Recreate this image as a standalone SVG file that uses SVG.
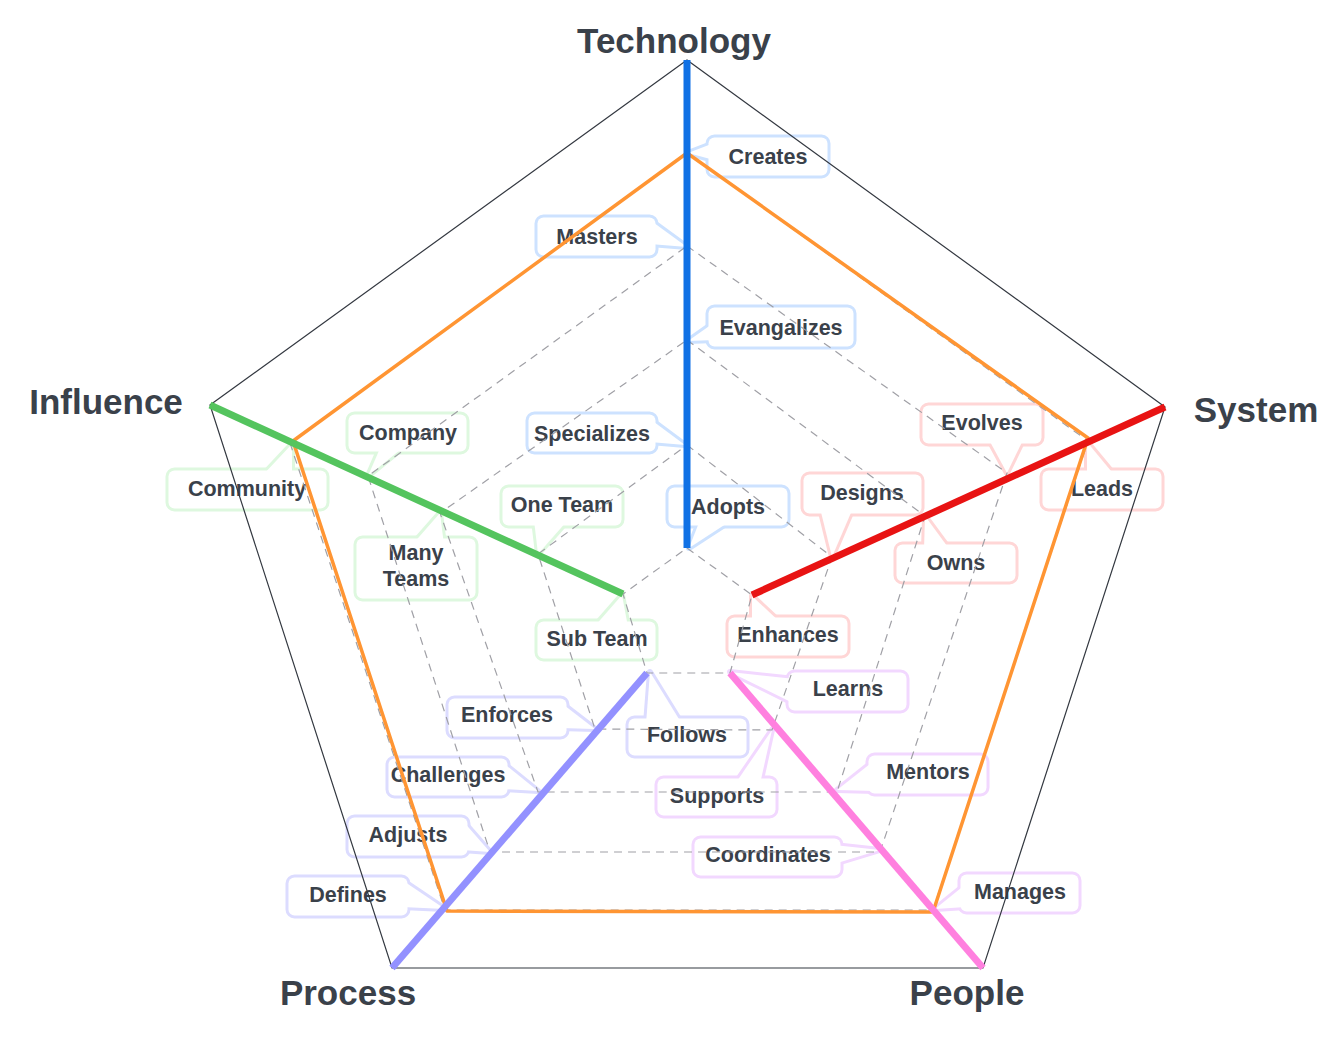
<svg xmlns="http://www.w3.org/2000/svg" width="1343" height="1043" viewBox="0 0 1343 1043">
<style>
.s{fill:none;stroke-width:6;stroke-linejoin:round}
.w{fill:#fff;stroke:none}
.blue .s{stroke:#cde2ff}
.green .s{stroke:#def8df}
.red .s{stroke:#ffd6d6}
.purple .s{stroke:#dcdcff}
.pink .s{stroke:#f2d8ff}
text{font-family:"Liberation Sans",Arial,sans-serif;font-weight:bold;fill:#3a414a;text-anchor:middle}
.cl text{font-size:21.5px}
.ax text{font-size:35px}
.dash{fill:none;stroke:#a0a0a6;stroke-width:1.2;stroke-dasharray:8 6}
.axis{stroke-width:7;fill:none}
</style>
<rect width="1343" height="1043" fill="#fff"/>

<g id="callouts">
<g id="c-creates" class="cl blue"><rect class="s" x="708.5" y="137.5" width="119" height="38" rx="6"/><polygon class="s" points="714,143 688,153 714,160"/><rect class="w" x="708.5" y="137.5" width="119" height="38" rx="6"/><polygon class="w" points="714,143 688,153 714,160"/><text x="768" y="164">Creates</text></g>
<g id="c-masters" class="cl blue"><rect class="s" x="537.5" y="217.5" width="118" height="38" rx="6"/><polygon class="s" points="650,220 687,247 650,244"/><rect class="w" x="537.5" y="217.5" width="118" height="38" rx="6"/><polygon class="w" points="650,220 687,247 650,244"/><text x="597" y="244">Masters</text></g>
<g id="c-evangalizes" class="cl blue"><rect class="s" x="708.5" y="307.5" width="145" height="39" rx="6"/><polygon class="s" points="715,322 688,341 715,340"/><rect class="w" x="708.5" y="307.5" width="145" height="39" rx="6"/><polygon class="w" points="715,322 688,341 715,340"/><text x="781" y="335">Evangalizes</text></g>
<g id="c-specializes" class="cl blue"><rect class="s" x="528.5" y="414.5" width="127" height="37" rx="6"/><polygon class="s" points="650,419 685,445 650,442"/><rect class="w" x="528.5" y="414.5" width="127" height="37" rx="6"/><polygon class="w" points="650,419 685,445 650,442"/><text x="592" y="441">Specializes</text></g>
<g id="c-adopts" class="cl blue"><rect class="s" x="668.5" y="487.5" width="119" height="38" rx="6"/><polygon class="s" points="700,520 689,548 732,520"/><rect class="w" x="668.5" y="487.5" width="119" height="38" rx="6"/><polygon class="w" points="700,520 689,548 732,520"/><text x="728" y="514">Adopts</text></g>

<g id="c-company" class="cl green"><rect class="s" x="348.5" y="414.5" width="118" height="37" rx="6"/><polygon class="s" points="381,446 368,476 405,446"/><rect class="w" x="348.5" y="414.5" width="118" height="37" rx="6"/><polygon class="w" points="381,446 368,476 405,446"/><text x="408" y="440">Company</text></g>
<g id="c-community" class="cl green"><rect class="s" x="168.5" y="470.5" width="158" height="38" rx="6"/><polygon class="s" points="262,476 292,444 292,476"/><rect class="w" x="168.5" y="470.5" width="158" height="38" rx="6"/><polygon class="w" points="262,476 292,444 292,476"/><text x="247" y="496">Community</text></g>
<g id="c-manyteams" class="cl green"><rect class="s" x="356.5" y="538.5" width="119" height="60" rx="6"/><polygon class="s" points="412,545 440,513 444,545"/><rect class="w" x="356.5" y="538.5" width="119" height="60" rx="6"/><polygon class="w" points="412,545 440,513 444,545"/><text x="416" y="560">Many</text><text x="416" y="586">Teams</text></g>
<g id="c-oneteam" class="cl green"><rect class="s" x="502.5" y="487.5" width="119" height="38" rx="6"/><polygon class="s" points="534,520 538,554 568,520"/><rect class="w" x="502.5" y="487.5" width="119" height="38" rx="6"/><polygon class="w" points="534,520 538,554 568,520"/><text x="562" y="512">One Team</text></g>
<g id="c-subteam" class="cl green"><rect class="s" x="537.5" y="621.5" width="118" height="37" rx="6"/><polygon class="s" points="594,627 622,595 628,627"/><rect class="w" x="537.5" y="621.5" width="118" height="37" rx="6"/><polygon class="w" points="594,627 622,595 628,627"/><text x="597" y="646">Sub Team</text></g>

<g id="c-evolves" class="cl red"><rect class="s" x="922.5" y="405.5" width="119" height="38" rx="6"/><polygon class="s" points="988,438 1007,473 1024,438"/><rect class="w" x="922.5" y="405.5" width="119" height="38" rx="6"/><polygon class="w" points="988,438 1007,473 1024,438"/><text x="982" y="430">Evolves</text></g>
<g id="c-leads" class="cl red"><rect class="s" x="1042.5" y="470.5" width="119" height="38" rx="6"/><polygon class="s" points="1087,477 1087,442 1116,477"/><rect class="w" x="1042.5" y="470.5" width="119" height="38" rx="6"/><polygon class="w" points="1087,477 1087,442 1116,477"/><text x="1102" y="496">Leads</text></g>
<g id="c-designs" class="cl red"><rect class="s" x="803.5" y="474.5" width="118" height="39" rx="6"/><polygon class="s" points="820,508 832,557 853,508"/><rect class="w" x="803.5" y="474.5" width="118" height="39" rx="6"/><polygon class="w" points="820,508 832,557 853,508"/><text x="862" y="500">Designs</text></g>
<g id="c-owns" class="cl red"><rect class="s" x="896.5" y="544.5" width="119" height="37" rx="6"/><polygon class="s" points="924,550 925,516 950,550"/><rect class="w" x="896.5" y="544.5" width="119" height="37" rx="6"/><polygon class="w" points="924,550 925,516 950,550"/><text x="956" y="570">Owns</text></g>
<g id="c-enhances" class="cl red"><rect class="s" x="728.5" y="617.5" width="119" height="38" rx="6"/><polygon class="s" points="752,624 752,596 782,624"/><rect class="w" x="728.5" y="617.5" width="119" height="38" rx="6"/><polygon class="w" points="752,624 752,596 782,624"/><text x="788" y="642">Enhances</text></g>

<g id="c-enforces" class="cl purple"><rect class="s" x="448.5" y="698.5" width="118" height="38" rx="6"/><polygon class="s" points="560,702 595,729 560,728"/><rect class="w" x="448.5" y="698.5" width="118" height="38" rx="6"/><polygon class="w" points="560,702 595,729 560,728"/><text x="507" y="722">Enforces</text></g>
<g id="c-challenges" class="cl purple"><rect class="s" x="388.5" y="758.5" width="119" height="37" rx="6"/><polygon class="s" points="502,762 538,791 502,789"/><rect class="w" x="388.5" y="758.5" width="119" height="37" rx="6"/><polygon class="w" points="502,762 538,791 502,789"/><text x="448" y="782">Challenges</text></g>
<g id="c-adjusts" class="cl purple"><rect class="s" x="348.5" y="817.5" width="119" height="38" rx="6"/><polygon class="s" points="462,820 490,852 462,850"/><rect class="w" x="348.5" y="817.5" width="119" height="38" rx="6"/><polygon class="w" points="462,820 490,852 462,850"/><text x="408" y="842">Adjusts</text></g>
<g id="c-defines" class="cl purple"><rect class="s" x="288.5" y="877.5" width="119" height="38" rx="6"/><polygon class="s" points="402,880 445,909 402,907"/><rect class="w" x="288.5" y="877.5" width="119" height="38" rx="6"/><polygon class="w" points="402,880 445,909 402,907"/><text x="348" y="902">Defines</text></g>
<g id="c-follows" class="cl purple"><rect class="s" x="628.5" y="718.5" width="118" height="37" rx="6"/><polygon class="s" points="646,724 650,672 682,724"/><rect class="w" x="628.5" y="718.5" width="118" height="37" rx="6"/><polygon class="w" points="646,724 650,672 682,724"/><text x="687" y="742">Follows</text></g>

<g id="c-learns" class="cl pink"><rect class="s" x="788.5" y="672.5" width="118" height="38" rx="6"/><polygon class="s" points="795,679 730,672 795,704"/><rect class="w" x="788.5" y="672.5" width="118" height="38" rx="6"/><polygon class="w" points="795,679 730,672 795,704"/><text x="848" y="696">Learns</text></g>
<g id="c-supports" class="cl pink"><rect class="s" x="657.5" y="778.5" width="118" height="37" rx="6"/><polygon class="s" points="735,784 772,730 760,784"/><rect class="w" x="657.5" y="778.5" width="118" height="37" rx="6"/><polygon class="w" points="735,784 772,730 760,784"/><text x="717" y="803">Supports</text></g>
<g id="c-mentors" class="cl pink"><rect class="s" x="868.5" y="755.5" width="118" height="38" rx="6"/><polygon class="s" points="875,760 837,790 875,791"/><rect class="w" x="868.5" y="755.5" width="118" height="38" rx="6"/><polygon class="w" points="875,760 837,790 875,791"/><text x="928" y="779">Mentors</text></g>
<g id="c-coordinates" class="cl pink"><rect class="s" x="694.5" y="838.5" width="146" height="37" rx="6"/><polygon class="s" points="834,845 880,850 834,864"/><rect class="w" x="694.5" y="838.5" width="146" height="37" rx="6"/><polygon class="w" points="834,845 880,850 834,864"/><text x="768" y="862">Coordinates</text></g>
<g id="c-manages" class="cl pink"><rect class="s" x="960.5" y="874.5" width="118" height="37" rx="6"/><polygon class="s" points="966,884 935,909 966,907"/><rect class="w" x="960.5" y="874.5" width="118" height="37" rx="6"/><polygon class="w" points="966,884 935,909 966,907"/><text x="1020" y="899">Manages</text></g>
</g>

<g id="connectors">
<polygon class="dash" points="687,548 752,595 730,673 647,673 623,594"/>
<polygon class="dash" points="687,445 832,557 772,730 595,729 538,554"/>
<polygon class="dash" points="687,340 925,516 837,792 538,792 440,513"/>
<polygon class="dash" points="687,246 1007,473 880,852 490,852 368,476"/>
<polygon class="dash" points="687,153 1088,441 933,910 445,910 290,443"/>
<polygon points="687,60 1165,407 983,968 392,968 210,405" fill="none" stroke="#333840" stroke-width="1.2"/>
<polygon points="687,153 1088,438 933,912 447,911 293,441" fill="none" stroke="#ff9533" stroke-width="3.5" stroke-linejoin="round"/>
<line class="axis" x1="687" y1="60" x2="687" y2="548" stroke="#1071e5"/>
<line class="axis" x1="1165" y1="407" x2="752" y2="595" stroke="#e81313"/>
<line class="axis" x1="210" y1="405" x2="623" y2="594" stroke="#54c45e"/>
<line class="axis" x1="392" y1="968" x2="647" y2="673" stroke="#9391ff"/>
<line class="axis" x1="983" y1="968" x2="730" y2="673" stroke="#ff80df"/>
</g>

<g class="ax">
<g id="n-technology"><text x="674" y="53">Technology</text></g>
<g id="n-system"><text x="1256" y="422">System</text></g>
<g id="n-influence"><text x="106" y="414">Influence</text></g>
<g id="n-process"><text x="348" y="1005">Process</text></g>
<g id="n-people"><text x="967" y="1005">People</text></g>
</g>
</svg>
